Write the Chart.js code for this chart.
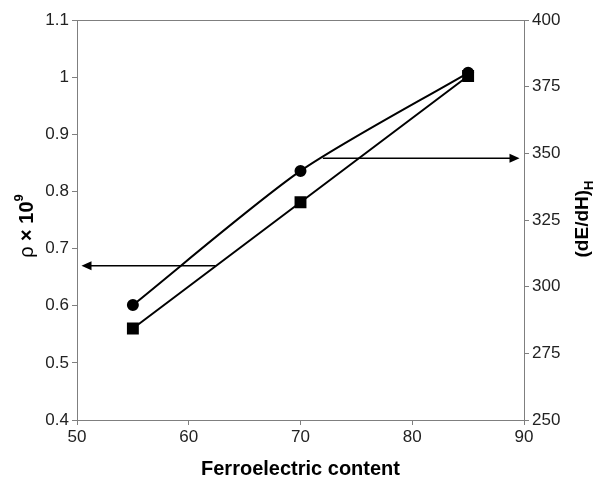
<!DOCTYPE html>
<html>
<head>
<meta charset="utf-8">
<script src="https://cdn.jsdelivr.net/npm/chart.js@4.4.0/dist/chart.umd.min.js"></script>
<style>
body { margin: 0; background: #fff; }
#wrap { width: 599px; height: 479px; }
</style>
</head>
<body>
<div id="wrap"><canvas id="chart"></canvas></div>
<script>
// values
const content = [55, 70, 85];
const rho = [0.56, 0.781, 1.002];          // squares, left axis
const dEdH = [293.1, 343.4, 380.2];        // circles, right axis

// arrows: [from x, to x], at a fixed y on their axis
const arrowLeftX = [62.4, 50.4];
const arrowLeftY = 0.67;
const arrowRightX = [72.0, 89.6];
const arrowRightY = 348.2;

const axisGray = '#7f7f7f';
const tickFont = {family: 'Liberation Sans', size: 17};

function fmt(v) {
    return String(Number(v.toFixed(2)));
}

function drawArrow(ctx, x1, y1, x2, y2) {
    ctx.save();
    ctx.strokeStyle = '#000';
    ctx.fillStyle = '#000';
    ctx.lineWidth = 1.5;
    let dir = Math.sign(x2 - x1);
    ctx.beginPath();
    ctx.moveTo(x1, y1);
    ctx.lineTo(x2 - dir * 8, y2);
    ctx.stroke();
    ctx.beginPath();
    ctx.moveTo(x2, y2);
    ctx.lineTo(x2 - dir * 10, y2 - 4.5);
    ctx.lineTo(x2 - dir * 10, y2 + 4.5);
    ctx.closePath();
    ctx.fill();
    ctx.restore();
}

// draws rotated text made of pieces; each piece {t, font, dy}
function drawRotated(ctx, cx, cy, pieces) {
    ctx.save();
    ctx.translate(cx, cy);
    ctx.rotate(-Math.PI / 2);
    ctx.fillStyle = '#000';
    ctx.textBaseline = 'middle';
    let total = 0;
    for (const p of pieces) {
        ctx.font = p.font;
        total += ctx.measureText(p.t).width;
    }
    let x = -total / 2;
    for (const p of pieces) {
        ctx.font = p.font;
        ctx.fillText(p.t, x, p.dy);
        x += ctx.measureText(p.t).width;
    }
    ctx.restore();
}

const extras = {
    id: 'extras',
    afterDatasetsDraw(chart) {
        const ctx = chart.ctx;
        const xs = chart.scales.x, yl = chart.scales.yL, yr = chart.scales.yR;
        drawArrow(ctx, xs.getPixelForValue(arrowLeftX[0]), yl.getPixelForValue(arrowLeftY),
                  xs.getPixelForValue(arrowLeftX[1]), yl.getPixelForValue(arrowLeftY));
        drawArrow(ctx, xs.getPixelForValue(arrowRightX[0]), yr.getPixelForValue(arrowRightY),
                  xs.getPixelForValue(arrowRightX[1]), yr.getPixelForValue(arrowRightY));
    },
    afterDraw(chart) {
        const ctx = chart.ctx;
        const a = chart.chartArea;
        // top border of the plot box
        ctx.save();
        ctx.strokeStyle = axisGray;
        ctx.lineWidth = 1;
        ctx.beginPath();
        ctx.moveTo(a.left, a.top + 0.5);
        ctx.lineTo(a.right, a.top + 0.5);
        ctx.stroke();
        ctx.restore();

        // x title
        ctx.save();
        ctx.fillStyle = '#000';
        ctx.font = 'bold 20px "Liberation Sans"';
        ctx.textAlign = 'center';
        ctx.textBaseline = 'middle';
        ctx.fillText('Ferroelectric content', (a.left + a.right) / 2, 469);
        ctx.restore();

        drawRotated(ctx, 27, 226, [
            {t: 'ρ ', font: '20px "Liberation Sans"', dy: 0},
            {t: '× 10', font: 'bold 20px "Liberation Sans"', dy: 0},
            {t: '9', font: 'bold 13px "Liberation Sans"', dy: -8}
        ]);
        drawRotated(ctx, 583, 219, [
            {t: '(dE/dH)', font: 'bold 19px "Liberation Sans"', dy: 0},
            {t: 'H', font: 'bold 13px "Liberation Sans"', dy: 6}
        ]);
    }
};

new Chart(document.getElementById('chart'), {
    type: 'line',
    data: {
        datasets: [{
            label: 'dE/dH',
            data: content.map((x, i) => ({x: x, y: dEdH[i]})),
            yAxisID: 'yR',
            borderColor: '#000',
            backgroundColor: '#000',
            borderWidth: 2,
            tension: 0.25,
            pointStyle: 'circle',
            pointRadius: 5,
            pointHoverRadius: 5
        }, {
            label: 'rho',
            data: content.map((x, i) => ({x: x, y: rho[i]})),
            yAxisID: 'yL',
            borderColor: '#000',
            backgroundColor: '#000',
            borderWidth: 2,
            tension: 0,
            pointStyle: 'rect',
            pointRadius: 7,
            pointHoverRadius: 7
        }]
    },
    options: {
        responsive: true,
        maintainAspectRatio: false,
        animation: false,
        events: [],
        layout: {padding: {top: 20, left: 0, right: 0, bottom: 0}},
        plugins: {legend: {display: false}, tooltip: {enabled: false}},
        scales: {
            x: {
                type: 'linear',
                min: 50,
                max: 90,
                afterFit: function(s) { s.height = 59; },
                ticks: {stepSize: 10, font: tickFont, color: '#222', padding: 2, maxRotation: 0},
                grid: {drawOnChartArea: false, tickLength: 5, color: axisGray},
                border: {color: axisGray, width: 1}
            },
            yL: {
                type: 'linear',
                position: 'left',
                min: 0.4,
                max: 1.1,
                afterFit: function(s) { s.width = 77; },
                ticks: {stepSize: 0.1, font: tickFont, color: '#222', padding: 3, callback: fmt},
                grid: {drawOnChartArea: false, tickLength: 5, color: axisGray},
                border: {color: axisGray, width: 1}
            },
            yR: {
                type: 'linear',
                position: 'right',
                min: 250,
                max: 400,
                afterFit: function(s) { s.width = 75; },
                ticks: {stepSize: 25, font: tickFont, color: '#222', padding: 3, callback: fmt},
                grid: {drawOnChartArea: false, tickLength: 5, color: axisGray},
                border: {color: axisGray, width: 1}
            }
        }
    },
    plugins: [extras]
});
</script>
</body>
</html>
